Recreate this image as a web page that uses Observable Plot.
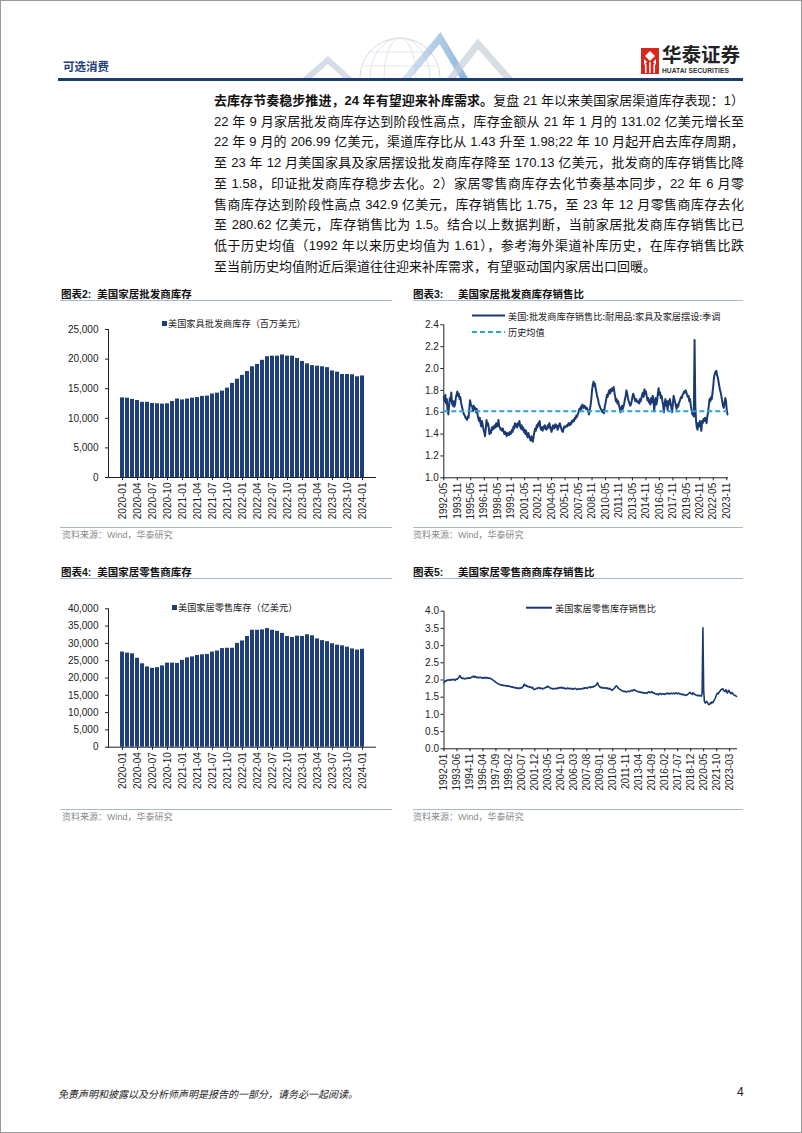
<!DOCTYPE html>
<html><head><meta charset="utf-8">
<script src="https://cdn.jsdelivr.net/npm/d3@7"></script>
<script src="https://cdn.jsdelivr.net/npm/@observablehq/plot@0.6"></script>
<style>
body{margin:0;background:#fff;}
#page{position:absolute;left:0;top:0;width:802px;height:1133px;overflow:hidden;background:#fff;font-family:"Liberation Sans","Noto Sans CJK SC",sans-serif;color:#111;}
#frame{position:absolute;left:0;top:0;width:800px;height:1131px;border:1px solid #9a9a9a;pointer-events:none;}
.abs{position:absolute;white-space:nowrap;}
.pl{position:absolute;left:214px;width:530px;height:21px;line-height:21px;font-size:13px;text-align:justify;text-align-last:justify;white-space:nowrap;}
.ttl{position:absolute;font-size:10.5px;font-weight:700;line-height:12px;white-space:nowrap;color:#111;}
.sep{position:absolute;height:0;border-top:1px solid #a9b8d0;}
.src{position:absolute;font-size:9px;color:#8a8a8a;line-height:10px;white-space:nowrap;}
.leg{position:absolute;font-size:9.2px;line-height:10px;color:#222;white-space:nowrap;font-family:"Noto Sans CJK SC",sans-serif;}
</style></head>
<body>
<div id="page">
  <!-- header -->
  <svg class="abs" style="left:300px;top:28px" width="215" height="51">
    <defs><linearGradient id="g1" x1="0" x2="1"><stop offset="0" stop-color="#c9d6e6"/><stop offset="1" stop-color="#5f9bd4"/></linearGradient></defs>
    <circle cx="100" cy="50" r="40" fill="none" stroke="#d3d9e2"/>
    <ellipse cx="100" cy="50" rx="16" ry="40" fill="none" stroke="#dfe4ea"/>
    <ellipse cx="100" cy="50" rx="30" ry="40" fill="none" stroke="#dfe4ea"/>
    <path d="M62 38 H138 M68 24 H132" stroke="#e2e6ec"/>
    <path d="M5 52 L28 32 L50 52" fill="none" stroke="#d6dde6" stroke-width="6"/>
    <path d="M105 52 L140 10 L165 52" fill="none" stroke="url(#g1)" stroke-width="7" opacity="0.7"/>
    <path d="M150 52 L178 16 L210 52" fill="none" stroke="#c8cfd8" stroke-width="7" opacity="0.7"/>
  </svg>
  <div class="abs" style="left:63px;top:58px;font-size:11.5px;font-weight:700;color:#1f3e7c;">可选消费</div>
  <svg class="abs" style="left:641px;top:48px" width="18" height="26">
    <rect x="0" y="0" width="18" height="26" fill="#d9261c"/>
    <path d="M9 3 L14 8 L9 13 L4 8 Z" fill="#fff"/>
    <path d="M3 11 L6 14 L3 17 Z M15 11 L12 14 L15 17 Z" fill="#fff"/>
    <rect x="4" y="16" width="1.5" height="9" fill="#fff"/><rect x="8.2" y="14" width="1.5" height="11" fill="#fff"/><rect x="12.5" y="16" width="1.5" height="9" fill="#fff"/>
  </svg>
  <div class="abs" style="left:662px;top:43px;font-size:19.5px;font-weight:700;color:#222;font-family:'Noto Sans CJK SC';line-height:22px;height:22px;">华泰证券</div>
  <div class="abs" style="left:662px;top:67px;font-size:6.6px;font-weight:700;color:#333;letter-spacing:0.1px;line-height:8px;">HUATAI SECURITIES</div>
  <div class="abs" style="left:58px;top:78px;width:685px;height:3px;background:#1f3a70;"></div>

  <!-- paragraph -->
  <div class="pl" style="top:90px"><b>去库存节奏稳步推进，24 年有望迎来补库需求。</b>复盘 21 年以来美国家居渠道库存表现：1）</div>
  <div class="pl" style="top:110.7px">22 年 9 月家居批发商库存达到阶段性高点，库存金额从 21 年 1 月的 131.02 亿美元增长至</div>
  <div class="pl" style="top:131.4px">22 年 9 月的 206.99 亿美元，渠道库存比从 1.43 升至 1.98;22 年 10 月起开启去库存周期，</div>
  <div class="pl" style="top:152.1px">至 23 年 12 月美国家具及家居摆设批发商库存降至 170.13 亿美元，批发商的库存销售比降</div>
  <div class="pl" style="top:172.8px">至 1.58，印证批发商库存稳步去化。2）家居零售商库存去化节奏基本同步，22 年 6 月零</div>
  <div class="pl" style="top:193.5px">售商库存达到阶段性高点 342.9 亿美元，库存销售比 1.75，至 23 年 12 月零售商库存去化</div>
  <div class="pl" style="top:214.2px">至 280.62 亿美元，库存销售比为 1.5。结合以上数据判断，当前家居批发商库存销售比已</div>
  <div class="pl" style="top:234.9px">低于历史均值（1992 年以来历史均值为 1.61），参考海外渠道补库历史，在库存销售比跌</div>
  <div class="pl" style="top:255.6px;text-align-last:left">至当前历史均值附近后渠道往往迎来补库需求，有望驱动国内家居出口回暖。</div>

  <!-- chart titles / separators / sources -->
  <div class="ttl" style="left:61px;top:288px">图表2:&nbsp;&nbsp;美国家居批发商库存</div>
  <div class="ttl" style="left:413px;top:288px">图表3:&nbsp;&nbsp;&nbsp;&nbsp;&nbsp;美国家居批发商库存销售比</div>
  <div class="sep" style="left:60px;top:300px;width:332px"></div>
  <div class="sep" style="left:413px;top:300px;width:330px"></div>
  <div class="sep" style="left:60px;top:527px;width:332px"></div>
  <div class="sep" style="left:413px;top:527px;width:330px"></div>
  <div class="src" style="left:62px;top:530px">资料来源：Wind，华泰研究</div>
  <div class="src" style="left:413px;top:530px">资料来源：Wind，华泰研究</div>

  <div class="ttl" style="left:61px;top:566px">图表4:&nbsp;&nbsp;美国家居零售商库存</div>
  <div class="ttl" style="left:413px;top:566px">图表5:&nbsp;&nbsp;&nbsp;&nbsp;&nbsp;美国家居零售商商库存销售比</div>
  <div class="sep" style="left:60px;top:578px;width:332px"></div>
  <div class="sep" style="left:413px;top:578px;width:330px"></div>
  <div class="sep" style="left:60px;top:809px;width:332px"></div>
  <div class="sep" style="left:413px;top:809px;width:330px"></div>
  <div class="src" style="left:62px;top:812px">资料来源：Wind，华泰研究</div>
  <div class="src" style="left:413px;top:812px">资料来源：Wind，华泰研究</div>

  <!-- legends -->
  <div class="abs" style="left:162px;top:321px;width:5px;height:5px;background:#1f3e7c"></div>
  <div class="leg" style="left:168px;top:318px">美国家具批发商库存（百万美元）</div>
  <div class="abs" style="left:172px;top:605px;width:5px;height:5px;background:#1f3e7c"></div>
  <div class="leg" style="left:178px;top:602px">美国家居零售库存（亿美元）</div>
  <svg class="abs" style="left:470px;top:310px" width="40" height="30">
    <line x1="2" x2="35" y1="5.5" y2="5.5" stroke="#1b3a73" stroke-width="2"/>
    <line x1="2" x2="35" y1="22" y2="22" stroke="#2aa3dd" stroke-width="2" stroke-dasharray="5,3"/>
  </svg>
  <div class="leg" style="left:508px;top:311px">美国:批发商库存销售比:耐用品:家具及家居摆设:季调</div>
  <div class="leg" style="left:508px;top:327px">历史均值</div>
  <svg class="abs" style="left:524px;top:603px" width="30" height="10">
    <line x1="2" x2="28" y1="4.7" y2="4.7" stroke="#1b3a73" stroke-width="2"/>
  </svg>
  <div class="leg" style="left:555px;top:603px">美国家居零售库存销售比</div>

  <!-- footer -->
  <div class="abs" style="left:58px;top:1086px;font-size:10px;font-style:italic;color:#222;font-family:'Noto Sans CJK SC';">免责声明和披露以及分析师声明是报告的一部分，请务必一起阅读。</div>
  <div class="abs" style="left:737px;top:1085px;font-size:12px;color:#222;">4</div>
  <div id="frame"></div>
</div>
<script>
// ---------- data ----------
const barTickLabels = ["2020-01","2020-04","2020-07","2020-10","2021-01","2021-04","2021-07","2021-10","2022-01","2022-04","2022-07","2022-10","2023-01","2023-04","2023-07","2023-10","2024-01"];
const barStart = "2020-01", barEnd = "2024-01";
// 图表2: 美国家具批发商库存（百万美元）, monthly 2020-01..2024-01
const wholesaleInventory = [
  13450,13400,13200,13000,12700,12700,12500,12450,12400,12450,12850,13250,
  13102,13250,13400,13500,13700,13750,14100,14250,14600,15100,15900,16600,
  17250,17900,18700,19100,19800,20400,20500,20500,20699,20500,20500,20100,
  19600,19200,18900,18800,18700,18550,18000,17800,17400,17400,17350,17013,
  17150];
// 图表4: 美国家居零售库存, monthly 2020-01..2024-01
const retailInventory = [
  27500,27200,27000,25700,24100,23200,22800,23000,23500,24300,24300,24200,
  25100,25800,26100,26500,26700,26800,27500,27800,28500,28600,28600,30000,
  30700,32000,33800,33800,33900,34290,33800,33500,32900,32000,31700,32100,
  32000,32500,32200,31300,30800,30500,29900,29500,29300,28900,28400,28062,
  28300];
const y2Ticks = [0,5000,10000,15000,20000,25000];
const y4Ticks = [0,5000,10000,15000,20000,25000,30000,35000,40000];

// 图表3: 批发商库存销售比 (monthly from 1992-05 to 2023-12)
const wsRatioStart = "1992-05";
const wsRatio = [
  1.74,1.70,1.76,1.68,1.72,1.62,1.58,1.66,1.73,1.70,1.78,1.68,
  1.66,1.70,1.65,1.67,1.73,1.76,1.79,1.75,1.77,1.72,1.74,1.69,
  1.66,1.63,1.60,1.58,1.57,1.55,1.54,1.53,1.56,1.55,1.62,1.71,
  1.68,1.66,1.65,1.61,1.66,1.63,1.64,1.60,1.63,1.58,1.55,1.52,
  1.55,1.50,1.47,1.52,1.48,1.44,1.42,1.38,1.45,1.53,1.48,1.50,
  1.46,1.40,1.43,1.41,1.46,1.44,1.47,1.45,1.48,1.46,1.50,1.47,
  1.48,1.53,1.47,1.46,1.44,1.45,1.43,1.45,1.42,1.40,1.42,1.41,
  1.38,1.41,1.40,1.39,1.42,1.40,1.41,1.44,1.42,1.47,1.45,1.50,
  1.47,1.49,1.46,1.50,1.48,1.52,1.47,1.45,1.48,1.44,1.46,1.42,
  1.44,1.40,1.43,1.39,1.37,1.41,1.38,1.36,1.34,1.38,1.35,1.33,
  1.38,1.42,1.45,1.43,1.48,1.46,1.50,1.48,1.52,1.46,1.44,1.46,
  1.43,1.47,1.45,1.48,1.46,1.44,1.45,1.48,1.46,1.50,1.47,1.44,
  1.42,1.46,1.48,1.45,1.47,1.49,1.46,1.48,1.44,1.46,1.48,1.50,
  1.47,1.45,1.43,1.42,1.45,1.47,1.46,1.47,1.48,1.47,1.49,1.50,
  1.48,1.50,1.49,1.52,1.51,1.53,1.52,1.55,1.54,1.57,1.56,1.58,
  1.60,1.63,1.61,1.65,1.63,1.67,1.66,1.64,1.66,1.65,1.63,1.64,
  1.62,1.61,1.58,1.63,1.66,1.72,1.80,1.85,1.88,1.84,1.86,1.81,
  1.78,1.74,1.72,1.68,1.66,1.64,1.63,1.61,1.60,1.62,1.59,1.65,
  1.68,1.72,1.76,1.74,1.78,1.80,1.77,1.81,1.79,1.82,1.80,1.83,
  1.78,1.74,1.70,1.72,1.68,1.70,1.66,1.64,1.60,1.63,1.66,1.63,
  1.65,1.68,1.72,1.75,1.80,1.77,1.73,1.70,1.68,1.66,1.67,1.70,
  1.74,1.77,1.75,1.72,1.70,1.72,1.70,1.69,1.70,1.68,1.72,1.70,
  1.73,1.76,1.78,1.74,1.81,1.77,1.79,1.75,1.71,1.73,1.69,1.71,
  1.67,1.73,1.69,1.75,1.72,1.61,1.68,1.73,1.67,1.71,1.77,1.82,
  1.76,1.78,1.73,1.75,1.70,1.66,1.60,1.68,1.72,1.66,1.70,1.62,
  1.70,1.67,1.72,1.68,1.64,1.60,1.68,1.75,1.72,1.69,1.66,1.63,
  1.67,1.65,1.68,1.70,1.72,1.74,1.73,1.76,1.77,1.79,1.78,1.80,
  1.78,1.76,1.74,1.75,1.70,1.72,1.66,1.62,1.58,1.60,1.56,2.26,
  1.66,1.52,1.46,1.44,1.50,1.47,1.52,1.49,1.43,1.52,1.50,1.54,
  1.52,1.55,1.53,1.50,1.56,1.60,1.66,1.72,1.70,1.74,1.72,1.78,
  1.84,1.92,1.95,1.97,1.98,1.94,1.92,1.88,1.84,1.80,1.78,1.74,
  1.70,1.66,1.64,1.68,1.73,1.70,1.62,1.58];
const wsRatioMean = 1.61;
const wsTickLabels = ["1992-05","1993-11","1995-05","1996-11","1998-05","1999-11","2001-05","2002-11","2004-05","2005-11","2007-05","2008-11","2010-05","2011-11","2013-05","2014-11","2016-05","2017-11","2019-05","2020-11","2022-05","2023-11"];
const wsYTicks = [1.0,1.2,1.4,1.6,1.8,2.0,2.2,2.4];

// 图表5: 美国家居零售库存销售比 (monthly from 1992-01 to 2023-12)
const rtRatioStart = "1992-01";
const rtRatio = [
  1.92,1.95,1.98,1.97,2.00,1.99,2.00,2.01,1.99,2.00,2.02,2.01,
  2.00,2.02,2.01,1.99,2.03,2.02,2.04,2.06,2.10,2.13,2.08,2.05,
  2.06,2.04,2.05,2.03,2.04,2.05,2.04,2.06,2.05,2.07,2.05,2.06,
  2.08,2.10,2.09,2.11,2.08,2.10,2.09,2.07,2.08,2.06,2.08,2.07,
  2.08,2.06,2.07,2.05,2.07,2.06,2.08,2.05,2.06,2.07,2.05,2.06,
  2.04,2.05,2.03,2.02,2.00,1.98,1.97,1.95,1.93,1.92,1.90,1.89,
  1.88,1.87,1.86,1.85,1.86,1.84,1.85,1.84,1.83,1.84,1.82,1.83,
  1.82,1.83,1.81,1.80,1.81,1.79,1.80,1.78,1.79,1.77,1.78,1.76,
  1.77,1.76,1.75,1.77,1.76,1.78,1.77,1.80,1.82,1.88,1.84,1.85,
  1.82,1.83,1.80,1.81,1.79,1.80,1.78,1.77,1.79,1.74,1.72,1.73,
  1.74,1.76,1.75,1.77,1.78,1.76,1.77,1.75,1.76,1.74,1.75,1.76,
  1.77,1.78,1.80,1.79,1.82,1.80,1.79,1.77,1.75,1.76,1.74,1.75,
  1.74,1.75,1.76,1.74,1.75,1.77,1.76,1.78,1.77,1.79,1.77,1.78,
  1.76,1.77,1.75,1.76,1.74,1.75,1.77,1.76,1.74,1.75,1.76,1.74,
  1.75,1.73,1.74,1.75,1.76,1.74,1.72,1.73,1.75,1.74,1.73,1.74,
  1.75,1.74,1.76,1.75,1.77,1.76,1.78,1.77,1.76,1.78,1.79,1.80,
  1.78,1.80,1.79,1.81,1.80,1.82,1.83,1.85,1.88,1.92,1.86,1.82,
  1.80,1.78,1.79,1.77,1.78,1.76,1.77,1.78,1.76,1.75,1.77,1.75,
  1.74,1.76,1.73,1.72,1.70,1.72,1.74,1.76,1.79,1.82,1.83,1.80,
  1.77,1.75,1.73,1.72,1.70,1.69,1.68,1.67,1.66,1.67,1.66,1.65,
  1.66,1.68,1.67,1.66,1.68,1.69,1.70,1.68,1.71,1.72,1.70,1.69,
  1.68,1.67,1.66,1.65,1.66,1.64,1.65,1.63,1.64,1.62,1.63,1.62,
  1.61,1.63,1.62,1.64,1.66,1.65,1.63,1.64,1.66,1.64,1.62,1.63,
  1.61,1.60,1.58,1.60,1.59,1.57,1.59,1.61,1.60,1.58,1.60,1.59,
  1.60,1.58,1.59,1.61,1.60,1.62,1.61,1.59,1.60,1.62,1.61,1.60,
  1.61,1.62,1.60,1.61,1.63,1.61,1.60,1.62,1.61,1.59,1.60,1.58,
  1.57,1.59,1.58,1.56,1.55,1.57,1.56,1.58,1.60,1.62,1.64,1.62,
  1.60,1.58,1.63,1.61,1.59,1.57,1.56,1.55,1.56,1.54,1.55,1.54,
  1.55,1.53,1.62,3.52,1.70,1.38,1.33,1.35,1.38,1.34,1.30,1.28,
  1.30,1.34,1.32,1.36,1.34,1.38,1.42,1.46,1.52,1.58,1.62,1.60,
  1.64,1.66,1.70,1.72,1.73,1.75,1.70,1.68,1.66,1.72,1.69,1.62,
  1.66,1.70,1.65,1.62,1.60,1.64,1.61,1.58,1.56,1.55,1.54,1.52];
const rtTickLabels = ["1992-01","1993-06","1994-11","1996-04","1997-09","1999-02","2000-07","2001-12","2003-05","2004-10","2006-03","2007-08","2009-01","2010-06","2011-11","2013-04","2014-09","2016-02","2017-07","2018-12","2020-05","2021-10","2023-03"];
const rtYTicks = [0,0.5,1.0,1.5,2.0,2.5,3.0,3.5,4.0];

// ---------- helpers ----------
const parseM = d3.utcParse("%Y-%m");
const fmtM = d3.utcFormat("%Y-%m");
const page = document.getElementById("page");
const BAR = "#1f3e7c", LINE = "#1b3a73", MEAN = "#2aa3dd";
const baseStyle = {fontFamily: "Liberation Sans, Arial, sans-serif", fontSize: "10px", color: "#222", background: "none", overflow: "visible"};
function place(el, left, top) {
  el.style.position = "absolute"; el.style.left = left + "px"; el.style.top = top + "px";
  page.appendChild(el);
}
const barMonths = d3.utcMonth.range(parseM(barStart), d3.utcMonth.offset(parseM(barEnd), 1)).map(fmtM);

function barChart(values, yTicks, {height, marginTop, marginBottom}) {
  const data = barMonths.map((m, i) => ({m, v: values[i]}));
  return Plot.plot({
    width: 340, height, marginLeft: 58, marginRight: 15, marginTop, marginBottom,
    style: baseStyle,
    x: {type: "band", domain: barMonths, paddingInner: 0.28, paddingOuter: 0.14, ticks: barTickLabels, tickRotate: -90, tickSize: 3, tickPadding: 2, label: null, line: true},
    y: {domain: [yTicks[0], yTicks[yTicks.length - 1]], ticks: yTicks, tickFormat: d3.format(","), tickSize: 3, tickPadding: 7, label: null, line: true},
    marks: [Plot.barY(data, {x: "m", y: "v", fill: BAR})]
  });
}

function lineChart(values, start, tickLabels, yTicks, opts, extra = []) {
  const s = parseM(start);
  const data = values.map((v, i) => ({d: d3.utcMonth.offset(s, i), v}));
  return Plot.plot({
    width: 340, height: opts.height, marginLeft: opts.marginLeft, marginRight: opts.marginRight, marginTop: opts.marginTop, marginBottom: opts.marginBottom,
    style: baseStyle,
    x: {type: "utc", domain: [s, data[data.length - 1].d], ticks: tickLabels.map(parseM), tickFormat: fmtM, tickRotate: -90, tickSize: 3, tickPadding: 2, label: null, line: true},
    y: {domain: [yTicks[0], yTicks[yTicks.length - 1]], ticks: yTicks, tickFormat: d3.format(".1f"), tickSize: 3, tickPadding: 2, label: null, line: true},
    marks: [
      Plot.lineY(data, {x: "d", y: "v", stroke: LINE, strokeWidth: opts.strokeWidth}),
      ...extra
    ]
  });
}

// 图表2
place(barChart(wholesaleInventory, y2Ticks, {height: 210, marginTop: 9, marginBottom: 53}), 50, 320);
// 图表4
place(barChart(retailInventory, y4Ticks, {height: 200, marginTop: 8.3, marginBottom: 53.3}), 50, 600);
// 图表3
place(lineChart(wsRatio, wsRatioStart, wsTickLabels, wsYTicks,
  {height: 212, marginLeft: 43.3, marginRight: 13, marginTop: 6.3, marginBottom: 52.7, strokeWidth: 2},
  [Plot.ruleY([wsRatioMean], {stroke: MEAN, strokeWidth: 2, strokeDasharray: "5,3"})]), 400, 318);
// 图表5
place(lineChart(rtRatio, rtRatioStart, rtTickLabels, rtYTicks,
  {height: 200, marginLeft: 43.5, marginRight: 4, marginTop: 10.7, marginBottom: 51.7, strokeWidth: 1.6}), 400, 600);
</script>
</body></html>
